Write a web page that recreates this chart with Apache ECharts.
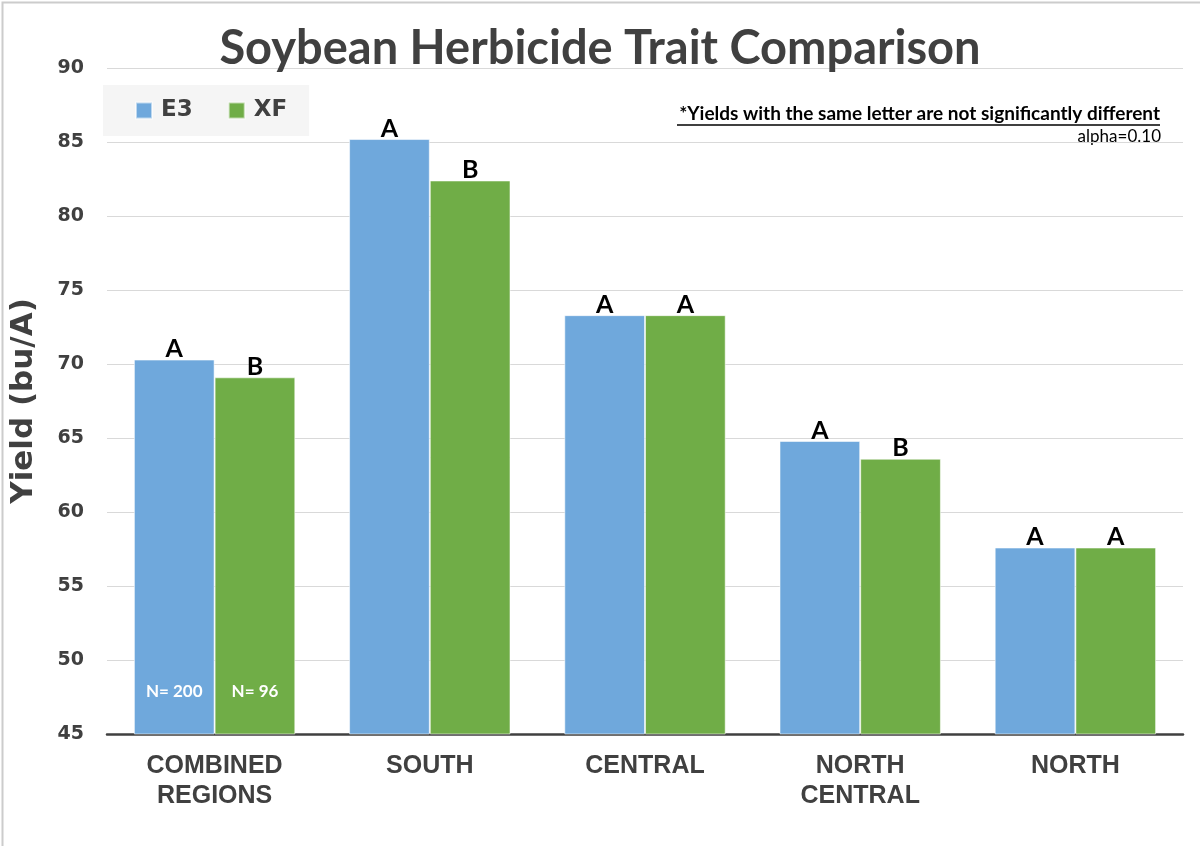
<!DOCTYPE html>
<html>
<head>
<meta charset="utf-8">
<script src="https://cdn.jsdelivr.net/npm/echarts@6/dist/echarts.min.js"></script>
<style>
html,body{margin:0;padding:0;background:#fff;}
#chart{width:1200px;height:846px;}
</style>
</head>
<body>
<div id="chart"></div>
<script>
const categories = ['COMBINED\nREGIONS', 'SOUTH', 'CENTRAL', 'NORTH\nCENTRAL', 'NORTH'];
const seriesNames = ['E3', 'XF'];
const e3Values = [70.3, 85.2, 73.3, 64.8, 57.6];
const xfValues = [69.1, 82.4, 73.3, 63.6, 57.6];
const e3Letters = ['A', 'A', 'A', 'A', 'A'];
const xfLetters = ['B', 'B', 'A', 'B', 'A'];
const sampleSizes = [200, 96];
const yTicks = [45, 50, 55, 60, 65, 70, 75, 80, 85, 90];

const dark = '#404040';
const chart = echarts.init(document.getElementById('chart'));

function makeSeries(name, values, letters, color, nCount) {
  return {
    name: name,
    type: 'bar',
    data: values,
    barGap: '0%',
    barCategoryGap: '25%',
    itemStyle: { color: color, borderColor: 'rgba(255,255,255,0.55)', borderWidth: 1 },
    label: {
      show: true,
      position: 'top',
      distance: -2,
      formatter: p => letters[p.dataIndex],
      fontFamily: 'Lato',
      fontWeight: 'bold',
      fontSize: 25,
      color: '#000'
    },
    markPoint: {
      symbol: 'rect',
      symbolSize: 0,
      silent: true,
      label: {
        show: true,
        formatter: 'N= ' + nCount,
        fontFamily: 'Lato',
        fontWeight: 'bold',
        fontSize: 17,
        color: '#fff',
        offset: [0, -42]
      },
      data: [{ coord: [0, yTicks[0]] }]
    }
  };
}

chart.setOption({
  animation: false,
  backgroundColor: '#fff',
  title: {
    text: 'Soybean Herbicide Trait Comparison',
    left: 'center',
    top: 20,
    textStyle: { fontFamily: 'Lato', fontWeight: 'bold', fontSize: 47, color: dark }
  },
  legend: {
    data: seriesNames,
    left: 103,
    top: 85,
    padding: [14, 22, 14, 32],
    itemGap: 35,
    itemWidth: 16,
    itemHeight: 16,
    backgroundColor: '#f5f5f5',
    icon: 'rect',
    textStyle: { fontFamily: 'DejaVu Sans', fontWeight: 'bold', fontSize: 23, color: dark, padding: [0, 0, 0, 4] }
  },
  grid: { left: 105, right: 17, top: 68, bottom: 112, containLabel: false },
  xAxis: {
    type: 'category',
    data: categories,
    axisTick: { show: false },
    axisLine: { lineStyle: { color: dark, width: 2.5 } },
    axisLabel: {
      margin: 17,
      fontFamily: 'Liberation Sans',
      fontWeight: 'bold',
      fontSize: 25,
      lineHeight: 30,
      color: dark
    }
  },
  yAxis: {
    type: 'value',
    min: 45,
    max: 90,
    interval: 5,
    name: 'Yield (bu/A)',
    nameLocation: 'middle',
    nameGap: 68,
    nameTextStyle: { fontFamily: 'DejaVu Sans', fontWeight: 'bold', fontSize: 31, color: dark },
    axisLine: { show: false },
    axisTick: { show: false },
    splitLine: { lineStyle: { color: '#d9d9d9', width: 1 } },
    axisLabel: {
      margin: 23,
      fontFamily: 'DejaVu Sans',
      fontWeight: 'bold',
      fontSize: 19,
      color: dark,
      formatter: v => (yTicks.indexOf(v) >= 0 ? String(v) : '')
    }
  },
  graphic: [
    {
      type: 'rect',
      left: 0, top: 0,
      shape: { x: 0, y: 0, width: 1199, height: 845 },
      style: { fill: 'none', stroke: '#cccccc', lineWidth: 2 },
      silent: true
    },
    {
      type: 'text',
      right: 40,
      top: 104,
      style: {
        text: '*Yields with the same letter are not significantly different',
        font: 'bold 19px Lato',
        fill: '#000'
      }
    },
    {
      type: 'line',
      shape: { x1: 677, y1: 125, x2: 1160, y2: 125 },
      style: { stroke: '#000', lineWidth: 1.3 }
    },
    {
      type: 'text',
      right: 39,
      top: 128,
      style: {
        text: 'alpha=0.10',
        font: '17px Lato',
        fill: '#000'
      }
    }
  ],
  series: [
    makeSeries(seriesNames[0], e3Values, e3Letters, '#6fa8dc', sampleSizes[0]),
    makeSeries(seriesNames[1], xfValues, xfLetters, '#70ad47', sampleSizes[1])
  ]
});
</script>
</body>
</html>
